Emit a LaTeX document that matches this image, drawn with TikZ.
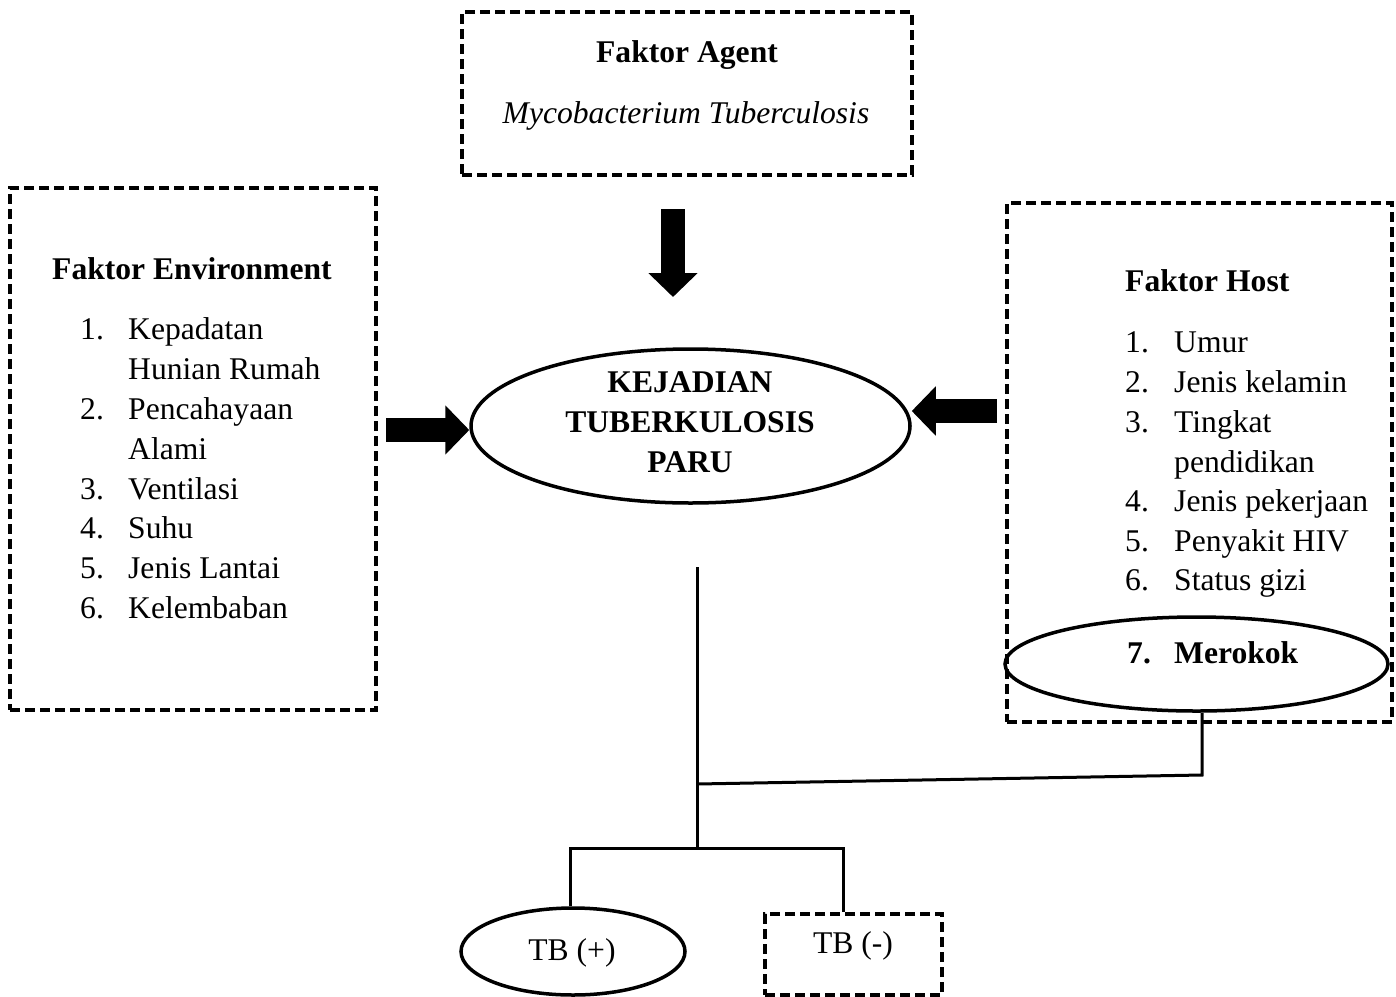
\documentclass[tikz,border=0pt]{standalone}
\usepackage{fontspec}
\setmainfont{Liberation Serif}
\usepackage{tikz}
\usetikzlibrary{arrows.meta,positioning,shapes.geometric}

\newcommand{\bigfont}{\fontsize{31.6}{40}\selectfont}

\begin{document}
\begin{tikzpicture}[
  x=1pt,y=-1pt,
  dashbox/.style={draw,line width=3.5pt,dash pattern=on 10pt off 5pt,inner sep=0pt},
  oval/.style={draw,ellipse,line width=3.5pt,inner sep=0pt},
  conn/.style={line width=3pt},
  fatarrow/.style={line width=24pt,-{Triangle[length=24pt,width=48pt]}},
  txt/.style={inner sep=0pt,anchor=base west,font=\bigfont},
  title/.style={inner sep=0pt,anchor=base west,font=\bigfont\bfseries}
]
\useasboundingbox (0,0) rectangle (1396,996);

% Boxes and ovals
\node[dashbox,minimum width=450pt,minimum height=163pt] (agent) at (687,93.5) {};
\node[dashbox,minimum width=366pt,minimum height=522pt] (environment) at (193,449) {};
\node[dashbox,minimum width=385pt,minimum height=519pt] (host) at (1199.5,462.5) {};
\node[oval,minimum width=439pt,minimum height=154pt] (kejadian) at (690.5,426) {};
\node[oval,minimum width=383pt,minimum height=94pt] (merokok) at (1196.5,664) {};
\node[oval,minimum width=224pt,minimum height=87pt] (tbpos) at (573,951.5) {};
\node[dashbox,minimum width=177pt,minimum height=81pt] (tbneg) at (853.5,954.5) {};

% Faktor Agent
\node[title,anchor=base] (agent-title) at (687,62) {Faktor Agent};
\node[txt,anchor=base,font=\bigfont\itshape] (agent-name) at (686,123)
  {Mycobacterium Tuberculosis};

% Faktor Environment
\node[title] (env-title) at (52,279) {Faktor Environment};
\foreach \y/\num/\entry [count=\i] in {339/1./Kepadatan, 419/2./Pencahayaan,
    499/3./Ventilasi, 538/4./Suhu, 578/5./Jenis Lantai, 618/6./Kelembaban}{
  \node[txt] (env-num-\i) at (80,\y) {\num};
  \node[txt] (env-entry-\i) at (128,\y) {\entry};
}
\node[txt] (env-more-1) at (128,379) {Hunian Rumah};
\node[txt] (env-more-2) at (128,459) {Alami};

% Faktor Host
\node[title] (host-title) at (1125,291) {Faktor Host};
\foreach \y/\num/\entry [count=\i] in {352/1./Umur, 392/2./Jenis kelamin,
    432/3./Tingkat, 511/4./Jenis pekerjaan, 551/5./Penyakit HIV, 590/6./Status gizi}{
  \node[txt] (host-num-\i) at (1125,\y) {\num};
  \node[txt] (host-entry-\i) at (1174,\y) {\entry};
}
\node[txt] (host-more-1) at (1174,472) {pendidikan};
\node[title] (merokok-num) at (1127,663) {7.};
\node[title] (merokok-text) at (1174,663) {Merokok};

% Kejadian
\node[title,anchor=base] (kejadian-1) at (690,392) {KEJADIAN};
\node[title,anchor=base] (kejadian-2) at (690,432) {TUBERKULOSIS};
\node[title,anchor=base] (kejadian-3) at (690,472) {PARU};

% Outcomes
\node[txt,anchor=base] (tbpos-text) at (572,960) {TB (+)};
\node[txt,anchor=base] (tbneg-text) at (853,953) {TB (-)};

% Fat arrows
\coordinate (agent-tail) at (673,209);
\coordinate (agent-tip) at (673,297);
\coordinate (env-tail) at (386,430);
\coordinate (host-tail) at (997,411);
\draw[fatarrow] (agent-tail) -- (agent-tip);
\draw[fatarrow] (env-tail) -- (env-tail -| kejadian.west);
\draw[fatarrow] (host-tail) -- (host-tail -| kejadian.east);

% Connectors
\coordinate (stem-top) at (697,567);
\coordinate (join) at (697,784);
\coordinate (split) at (697,848);
\coordinate (elbow) at (1202,775);
\coordinate (left-drop) at (570,848);
\coordinate (right-drop) at (843,848);
\draw[conn] (stem-top) -- (split);
\draw[conn] (merokok.south -| elbow) -- (elbow) -- (join);
\draw[conn] (tbpos.north -| left-drop) -- (left-drop) -- (right-drop)
  -- (tbneg.north -| right-drop);
\end{tikzpicture}
\end{document}
